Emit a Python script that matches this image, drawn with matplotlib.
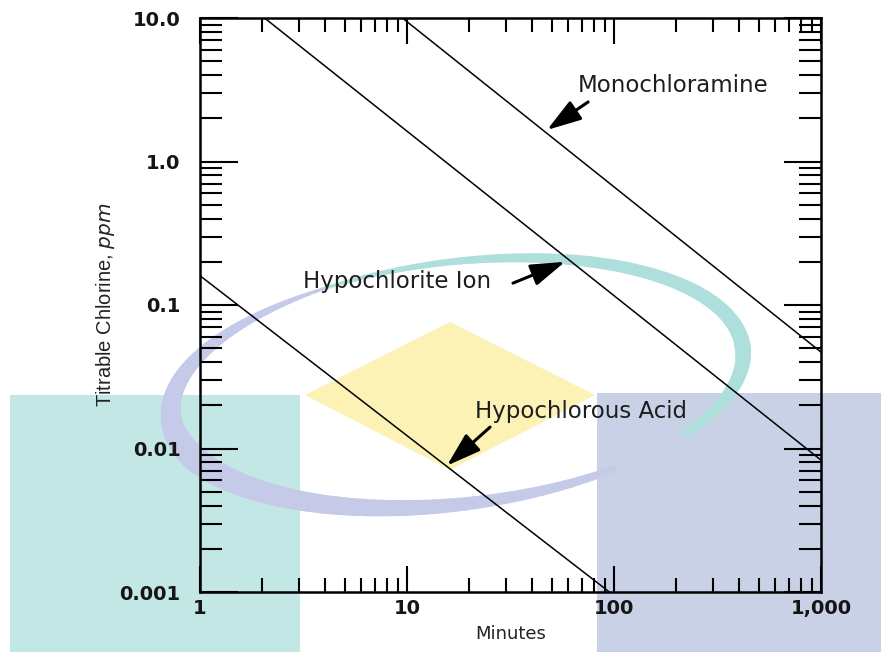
import numpy as np
import matplotlib
matplotlib.use("Agg")
import matplotlib.pyplot as plt
from matplotlib.patches import Rectangle, Polygon
from matplotlib.collections import LineCollection
from matplotlib.transforms import IdentityTransform
from matplotlib.ticker import FixedLocator, FixedFormatter, LogLocator, NullFormatter

# chart data
hypochlorous_x = [1, 95]
hypochlorous_y = [0.16, 0.001]
hypochlorite_x = [2.05, 1000]
hypochlorite_y = [10, 0.0083]
mono_x = [9.5, 1000]
mono_y = [10, 0.047]

x_ticks = [1, 10, 100, 1000]
x_labels = ["1", "10", "100", "1,000"]
y_ticks = [0.001, 0.01, 0.1, 1, 10]
y_labels = ["0.001", "0.01", "0.1", "1.0", "10.0"]

# label text, text anchor, arrow tail, arrow tip
notes = [
    ("Monochloramine", (67, 3.4), (75, 2.6), (47.5, 1.66)),
    ("Hypochlorite Ion", (3.15, 0.145), (32.5, 0.142), (58, 0.2)),
    ("Hypochlorous Acid", (21.3, 0.018), (25.2, 0.0141), (15.6, 0.0076)),
]

W, H = 881, 652
fig = plt.figure(figsize=(W / 100, H / 100), dpi=100)


def fx(px):
    return px / W


def fy(py):
    return 1 - py / H


# watermark behind the chart
teal = "#c3e7e5"
lav = "#c9d1e6"
yellow = "#fcf2b6"
fig.add_artist(Rectangle((fx(10), 0), fx(290), fy(395), transform=fig.transFigure,
                         color=teal, zorder=-5, lw=0))
fig.add_artist(Rectangle((fx(597), 0), fx(284), fy(393), transform=fig.transFigure,
                         color=lav, zorder=-5, lw=0))
fig.add_artist(Polygon([(fx(450), fy(322)), (fx(595), fy(395)), (fx(450), fy(470)), (fx(305), fy(395))],
                       transform=fig.transFigure, color=yellow, zorder=-4, lw=0))


# swoosh ring drawn in pixels, width tapering along it
def swoosh(t_from, t_to, t_w, w_px, color):
    th = np.radians(np.linspace(t_from, t_to, 120))
    phi = np.radians(7)
    cx, cy, a, b = 457, H - 383, 288, 121
    px = cx + a * np.cos(th) * np.cos(phi) - b * np.sin(th) * np.sin(phi)
    py = cy + a * np.cos(th) * np.sin(phi) + b * np.sin(th) * np.cos(phi)
    pts = np.column_stack([px, py])
    segs = np.stack([pts[:-1], pts[1:]], axis=1)
    mid = np.degrees((th[:-1] + th[1:]) / 2)
    widths = np.interp(mid, t_w, w_px) * 0.72
    fig.add_artist(LineCollection(segs, linewidths=widths, colors=color,
                                  transform=IdentityTransform(), zorder=-3,
                                  capstyle="round"))


swoosh(-40, 115, [-40, 0, 60, 115], [9, 16, 11, 3], "#afdfdc")
swoosh(115, 300, [115, 200, 260, 300], [3, 26, 15, 7], "#c6cae9")

ax = fig.add_axes([fx(200), fy(592), fx(621), 574 / H])
ax.patch.set_alpha(0)
ax.set_xscale("log")
ax.set_yscale("log")
ax.set_xlim(1, 1000)
ax.set_ylim(0.001, 10)

ax.plot(hypochlorous_x, hypochlorous_y, color="black", lw=1.1)
ax.plot(hypochlorite_x, hypochlorite_y, color="black", lw=1.1)
ax.plot(mono_x, mono_y, color="black", lw=1.1)

for txt, pos, tail, tip in notes:
    ax.text(pos[0], pos[1], txt, ha="left", va="center", fontsize=16.5,
            family="DejaVu Sans", color="#1e1e1e")
    ax.annotate("", xy=tip, xytext=tail,
                arrowprops=dict(arrowstyle="-|>,head_length=1.4,head_width=0.45",
                                color="black", lw=2.2, mutation_scale=15,
                                shrinkA=0, shrinkB=0))

ax.xaxis.set_major_locator(FixedLocator(x_ticks))
ax.xaxis.set_major_formatter(FixedFormatter(x_labels))
ax.yaxis.set_major_locator(FixedLocator(y_ticks))
ax.yaxis.set_major_formatter(FixedFormatter(y_labels))
for a in (ax.xaxis, ax.yaxis):
    a.set_minor_locator(LogLocator(base=10, subs=np.arange(2, 10)))
    a.set_minor_formatter(NullFormatter())

ax.tick_params(which="both", direction="in", top=True, right=True, width=1.5, color="black")
ax.xaxis.set_tick_params(which="major", length=19, pad=5)
ax.xaxis.set_tick_params(which="minor", length=10)
ax.yaxis.set_tick_params(which="major", length=27, pad=14)
ax.yaxis.set_tick_params(which="minor", length=16)
for lab in ax.get_xticklabels() + ax.get_yticklabels():
    lab.set_family("DejaVu Sans")
    lab.set_fontweight("bold")
    lab.set_fontsize(14)
    lab.set_color("#151515")

for sp in ax.spines.values():
    sp.set_linewidth(1.8)

plt.rcParams["mathtext.fontset"] = "custom"
plt.rcParams["mathtext.it"] = "Liberation Sans:italic"
plt.rcParams["mathtext.rm"] = "Liberation Sans"
ax.set_ylabel("Titrable Chlorine, $\\it{ppm}$", family="Liberation Sans", fontsize=14.5,
              color="#222222", labelpad=2)
ax.set_xlabel("Minutes", family="DejaVu Sans", fontsize=13, color="#222222", labelpad=5)

fig.savefig("out.png", dpi=100)
